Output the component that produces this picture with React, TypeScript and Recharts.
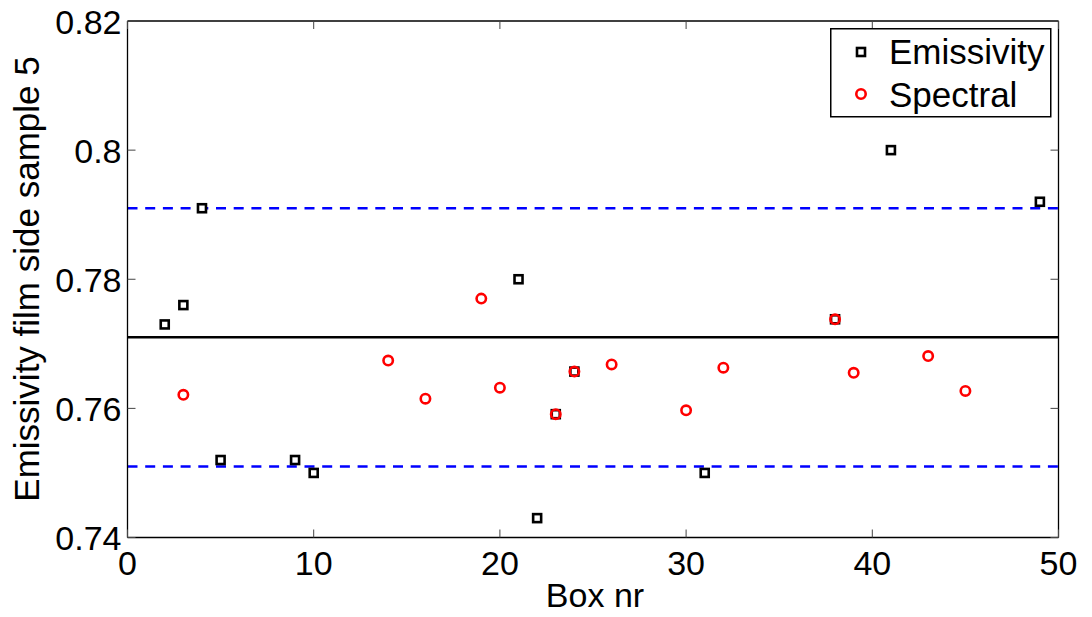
import React from "react";
import { Legend, ReferenceLine, Scatter, ScatterChart, XAxis, YAxis } from "recharts";

// measured emissivity per box
const emissivityBox = [2, 3, 4, 5, 9, 10, 21, 22, 23, 24, 31, 38, 41, 49];
const emissivityValue = [0.773, 0.776, 0.791, 0.752, 0.752, 0.75, 0.78, 0.743, 0.7591, 0.7657, 0.75, 0.7738, 0.8, 0.792];

// spectral estimate per box
const spectralBox = [3, 14, 16, 19, 20, 23, 24, 26, 30, 32, 38, 39, 43, 45];
const spectralValue = [0.7621, 0.7674, 0.7615, 0.777, 0.7632, 0.7591, 0.7657, 0.7668, 0.7597, 0.7663, 0.7738, 0.7655, 0.7681, 0.7627];

// mean and +/- 0.02 band
const meanLevel = 0.771;
const bandLevels = [0.751, 0.791];

const xTicks = [0, 10, 20, 30, 40, 50];
const yTicks = [0.74, 0.76, 0.78, 0.8, 0.82];

const seriesNames = ["Emissivity", "Spectral"];

const FONT = "'Liberation Sans', Arial, Helvetica, sans-serif";
const W = 1092;
const H = 617;
const LEFT = 127.5;
const RIGHT = 1058.5;
const TOP = 21;
const BOTTOM = 537.5;
const TICK_LEN = 8;
const SQ = 8;
const CR = 4.7;

const emissivityData = emissivityBox.map((b, i) => ({ box: b, value: emissivityValue[i] }));
const spectralData = spectralBox.map((b, i) => ({ box: b, value: spectralValue[i] }));

function SquareMark(props: any) {
    const { cx, cy } = props;
    return <rect x={cx - SQ / 2} y={cy - SQ / 2} width={SQ} height={SQ} fill="#fff" stroke="#000" strokeWidth={2.6} />;
}

function CircleMark(props: any) {
    const { cx, cy } = props;
    return <circle cx={cx} cy={cy} r={CR} fill="none" stroke="#ff0000" strokeWidth={2.6} />;
}

function XTick(props: any) {
    const { x, payload } = props;
    return (
        <g>
            <line x1={x} x2={x} y1={BOTTOM} y2={BOTTOM - TICK_LEN} stroke="#444" strokeWidth={1} />
            <line x1={x} x2={x} y1={TOP} y2={TOP + TICK_LEN} stroke="#444" strokeWidth={1} />
            <text x={x} y={575} textAnchor="middle" fontFamily={FONT} fontSize={34} fill="#000">
                {payload.value}
            </text>
        </g>
    );
}

function YTick(props: any) {
    const { y, payload } = props;
    return (
        <g>
            <line x1={LEFT} x2={LEFT + TICK_LEN} y1={y} y2={y} stroke="#444" strokeWidth={1} />
            <line x1={RIGHT - TICK_LEN} x2={RIGHT} y1={y} y2={y} stroke="#444" strokeWidth={1} />
            <text x={121.5} y={y + 12.5} textAnchor="end" fontFamily={FONT} fontSize={34} fill="#000">
                {String(payload.value)}
            </text>
        </g>
    );
}

const XTitle = () => (
    <text x={595} y={607} textAnchor="middle" fontFamily={FONT} fontSize={34} fill="#000">Box nr</text>
);

const YTitle = () => (
    <text
        x={39}
        y={279}
        transform="rotate(-90, 39, 279)"
        textAnchor="middle"
        fontFamily={FONT}
        fontSize={35}
        fill="#000"
    >
        Emissivity film side sample 5
    </text>
);

function LegendBox() {
    return (
        <svg width={222} height={90} style={{ display: "block" }}>
            <rect x={0.75} y={0.75} width={220} height={88} fill="#fff" stroke="#000" strokeWidth={1.5} />
            <rect x={31 - SQ / 2} y={24 - SQ / 2} width={SQ} height={SQ} fill="#fff" stroke="#000" strokeWidth={2.6} />
            <text x={59} y={36} fontFamily={FONT} fontSize={35} fill="#000">{seriesNames[0]}</text>
            <circle cx={31} cy={66} r={CR} fill="none" stroke="#ff0000" strokeWidth={2.6} />
            <text x={59} y={79} fontFamily={FONT} fontSize={35} fill="#000">{seriesNames[1]}</text>
        </svg>
    );
}

export default function App() {
    return (
        <div style={{ position: "absolute", left: 0, top: 0, width: W, height: H, background: "#fff" }}>
            <ScatterChart
                width={W}
                height={H}
                margin={{ top: TOP, right: W - RIGHT, bottom: 0, left: 0 }}
            >
                <XAxis
                    type="number"
                    dataKey="box"
                    domain={[0, 50]}
                    ticks={xTicks}
                    height={H - BOTTOM}
                    allowDataOverflow
                    tickLine={false}
                    tickSize={0}
                    tick={(p: any) => <XTick {...p} />}
                    axisLine={{ stroke: "#000", strokeWidth: 1.3 }}
                    label={{ content: XTitle }}
                />
                <YAxis
                    type="number"
                    dataKey="value"
                    domain={[0.74, 0.82]}
                    ticks={yTicks}
                    width={LEFT}
                    allowDataOverflow
                    tickLine={false}
                    tickSize={0}
                    tick={(p: any) => <YTick {...p} />}
                    axisLine={{ stroke: "#000", strokeWidth: 1.3 }}
                    label={{ content: YTitle }}
                />
                <ReferenceLine y={0.82} stroke="#000" strokeWidth={1.3} />
                <ReferenceLine x={50} stroke="#000" strokeWidth={1.3} />
                <ReferenceLine y={meanLevel} stroke="#000" strokeWidth={2.5} />
                {bandLevels.map((v) => (
                    <ReferenceLine key={v} y={v} stroke="#0000ff" strokeWidth={2.5} strokeDasharray="10 7.7" />
                ))}
                <Scatter name={seriesNames[0]} data={emissivityData} shape={SquareMark} isAnimationActive={false} />
                <Scatter name={seriesNames[1]} data={spectralData} shape={CircleMark} isAnimationActive={false} />
                <Legend
                    layout="horizontal"
                    verticalAlign="middle"
                    align="center"
                    content={() => <LegendBox />}
                    wrapperStyle={{ position: "absolute", left: 830, top: 28, width: 222, height: 90 }}
                />
            </ScatterChart>
        </div>
    );
}
